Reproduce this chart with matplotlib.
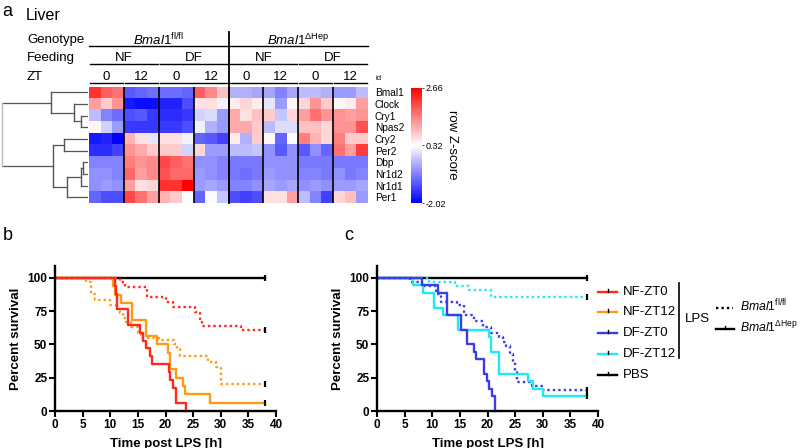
import numpy as np
import matplotlib
matplotlib.use('Agg')
import matplotlib.pyplot as plt

plt.rcParams['font.family'] = ['Liberation Sans', 'DejaVu Sans']
plt.rcParams['mathtext.fontset'] = 'custom'
plt.rcParams['mathtext.rm'] = 'Liberation Sans'
plt.rcParams['mathtext.it'] = 'Liberation Sans:italic'
plt.rcParams['mathtext.bf'] = 'Liberation Sans:bold'

# ---------------- data: heatmap ----------------
genes = ['Bmal1', 'Clock', 'Cry1', 'Npas2', 'Cry2', 'Per2', 'Dbp', 'Nr1d2', 'Nr1d1', 'Per1']
genotype_labels = [r'$\mathit{Bmal1}^{\mathrm{fl/fl}}$', r'$\mathit{Bmal1}^{\Delta\mathrm{Hep}}$']
feeding_labels = ['NF', 'DF', 'NF', 'DF']
zt_labels = ['0', '12', '0', '12', '0', '12', '0', '12']
cbar_ticks = [-2.02, 0.32, 2.66]

z_bmal1 = [2.2, 1.8, 1.6, -1.2, -1.1, -1.0, -1.0, -1.0, -1.1, 1.8, 1.4, 0.9,
           -0.4, -0.4, -0.5, -0.5, -0.8, -0.5, -0.3, -0.3, -0.4, -0.6, -0.6, -0.3]
z_clock = [1.2, 0.8, 1.3, -1.8, -1.9, -1.9, -1.7, -1.7, -1.3, 0.6, 0.6, 0.2,
           0.5, 0.7, 0.5, 0.1, -0.6, 0.4, 0.7, 1.3, 0.8, 0.4, 0.5, 1.2]
z_cry1 = [-0.3, -0.8, -1.0, -1.3, -1.2, -1.5, -1.6, -1.6, -1.5, -0.1, 0.0, -0.6,
          1.1, 0.6, 0.9, 0.8, -0.2, 0.7, 1.2, 1.6, 1.3, 1.3, 1.2, 1.3]
z_npas2 = [0.4, -0.1, -0.6, -1.5, -1.5, -1.5, -1.5, -1.5, -1.3, 0.2, -0.4, -0.6,
           1.1, 1.1, 0.8, -0.3, 0.0, 0.0, 0.9, 0.9, 0.7, 1.3, 1.3, 1.9]
z_cry2 = [-1.8, -1.7, -2.0, 1.0, 0.6, 0.1, 0.6, 0.6, 0.2, -1.1, -1.2, -1.4,
          0.5, -0.4, 0.8, 0.4, -1.1, 0.3, 1.5, 1.0, 0.7, 1.5, 0.8, 0.8]
z_per2 = [-1.6, -1.6, -1.4, 1.3, 1.1, 0.8, 0.8, 0.8, -0.1, 0.7, -0.6, -0.6,
          -0.3, -0.3, -0.2, -0.7, -1.2, -0.7, -1.2, -0.7, -1.1, 1.6, 1.2, 2.1]
z_dbp = [-0.8, -0.8, -0.8, 1.5, 1.3, 1.4, 2.0, 1.8, 1.6, -0.7, -0.7, -0.8,
         -0.9, -0.9, -0.9, -0.7, -0.7, -0.7, -0.9, -0.9, -0.9, -0.9, -0.9, -0.9]
z_nr1d2 = [-0.7, -0.7, -0.8, 1.7, 1.2, 1.4, 1.9, 1.7, 1.7, -0.6, -0.7, -0.8,
           -0.9, -1.0, -0.9, -0.6, -0.7, -0.7, -0.8, -0.8, -0.9, -0.7, -0.9, -0.8]
z_nr1d1 = [-0.7, -0.6, -0.7, 1.2, 0.6, 0.7, 2.2, 2.2, 2.66, -0.6, -0.5, -0.6,
           -0.8, -0.8, -0.7, -0.5, -0.6, -0.5, -0.7, -0.6, -0.7, -0.6, -0.6, -0.5]
z_per1 = [-1.1, -1.3, -1.3, 2.0, 1.6, 1.2, 1.0, 0.8, 0.3, -1.1, 0.3, -0.2,
          -1.3, -1.4, -1.3, 0.6, 0.6, 1.2, -0.3, -0.8, -1.4, 0.7, 0.9, -0.6]

# dendrogram merges: (child_a, child_b, height); leaves 0..9 in display order
dendro_merges = [(2, 3, 7), (1, 10, 14), (0, 11, 37), (4, 5, 24), (6, 7, 5),
                 (14, 8, 7), (15, 9, 21), (13, 16, 35), (12, 17, 86)]

# ---------------- data: survival ----------------
t_pbs = [0, 38]
s_pbs = [100, 100]

t_nf0_hep = [0, 10.8, 11.0, 11.2, 13.2, 15.3, 15.9, 16.4, 17.2, 17.6, 20.6, 20.8, 21.3, 21.9, 23.8]
s_nf0_hep = [100, 94.1, 88.2, 76.5, 64.7, 58.8, 52.9, 47.1, 41.2, 35.3, 29.4, 23.5, 17.6, 5.9, 0]
t_nf12_hep = [0, 10.5, 10.8, 12.0, 14.0, 16.4, 18.4, 20.5, 20.9, 21.9, 23.2, 23.5, 28.0, 38]
s_nf12_hep = [100, 93.75, 87.5, 81.25, 68.75, 56.25, 50, 43.75, 31.25, 25, 18.75, 12.5, 6.25, 6.25]
t_nf0_fl = [0, 11.7, 12.6, 16.6, 20.0, 21.4, 25.3, 26.2, 26.6, 33.7, 38]
s_nf0_fl = [100, 97.2, 93.0, 85.5, 82.0, 78.0, 74.5, 69.0, 64.0, 60.6, 60.6]
t_nf12_fl = [0, 5.6, 6.6, 7.2, 10.0, 11.1, 11.7, 12.3, 12.9, 13.8, 15.0, 15.6, 18.8, 21.5, 22.0,
             22.7, 27.7, 29.2, 30.1, 38]
s_nf12_fl = [100, 96.7, 88.3, 83.3, 80, 76.7, 73.3, 70, 66.7, 63.3, 58.3, 55, 53.3, 50, 46.7,
             41.7, 36.7, 33.3, 20, 20]

t_df0_hep = [0, 8.1, 11.0, 12.7, 15.2, 16.3, 17.5, 18.0, 19.3, 19.9, 20.3, 20.8, 21.3]
s_df0_hep = [100, 94.4, 88.9, 72.2, 61.1, 50, 44.4, 38.9, 27.8, 22.2, 16.7, 11.1, 0]
t_df12_hep = [0, 6.5, 8.3, 10.3, 12.0, 14.7, 20.3, 20.7, 22.1, 27.3, 28.3, 30.0, 38]
s_df12_hep = [100, 94.4, 88.9, 77.8, 72.2, 61.1, 55.6, 44.4, 27.8, 22.2, 16.7, 11.1, 11.1]
t_df0_fl = [0, 6.0, 8.2, 10.6, 11.5, 14.5, 15.8, 17.6, 19.1, 20.6, 22.1, 22.8, 23.4, 24.0, 24.6,
            24.9, 25.4, 28.0, 30.0, 38]
s_df0_fl = [100, 97, 94, 88, 82, 80, 72, 68, 63, 59, 55.5, 52, 48.5, 43, 37, 29, 22, 19, 15.5, 15.5]
t_df12_fl = [0, 9.5, 14.2, 16.7, 20.6, 38]
s_df12_fl = [100, 97.1, 94.2, 91.2, 85.7, 85.7]

legend_labels = ['NF-ZT0', 'NF-ZT12', 'DF-ZT0', 'DF-ZT12', 'PBS']
c_red, c_orange, c_blue, c_cyan, c_black = '#FF2A1A', '#FF9A14', '#3C3CEC', '#1EEAF5', '#000000'
legend_colors = [c_red, c_orange, c_blue, c_cyan, c_black]

# ---------------- figure ----------------
W, H = 800, 448
fig = plt.figure(figsize=(8, 4.48), dpi=100)


def rect(x0, y0, x1, y1):
    return [x0 / W, 1 - y1 / H, (x1 - x0) / W, (y1 - y0) / H]


# heatmap
Z = np.array([z_bmal1, z_clock, z_cry1, z_npas2, z_cry2, z_per2, z_dbp, z_nr1d2, z_nr1d1, z_per1])
hx0, hx1, hy0, hy1 = 89, 368, 86.5, 203
axh = fig.add_axes(rect(hx0, hy0, hx1, hy1))
im = axh.imshow(Z, cmap='bwr', vmin=cbar_ticks[0], vmax=cbar_ticks[2], aspect='auto',
                interpolation='nearest')
for k in range(1, 8):
    axh.axvline(3 * k - 0.5, color='k', lw=1.2 if k != 4 else 1.3)
axh.set_xticks([])
axh.yaxis.tick_right()
axh.set_yticks(range(len(genes)))
axh.set_yticklabels(genes, fontsize=7.3)
axh.tick_params(axis='y', length=0, pad=5)
for sp in axh.spines.values():
    sp.set_visible(False)

# dendrogram
axd = fig.add_axes(rect(0, hy0, 88, hy1))
pos = {i: i for i in range(len(genes))}
hgt = {i: 0 for i in range(len(genes))}
for j, (a, b, h) in enumerate(dendro_merges):
    nid = len(genes) + j
    col = '#bbbbbb' if j == len(dendro_merges) - 1 else '#555555'
    axd.plot([hgt[a], h], [pos[a], pos[a]], color='#555555', lw=0.9)
    axd.plot([hgt[b], h], [pos[b], pos[b]], color='#555555', lw=0.9)
    axd.plot([h, h], [pos[a], pos[b]], color=col, lw=1.0)
    pos[nid] = (pos[a] + pos[b]) / 2
    hgt[nid] = h
axd.set_xlim(88, 0)
axd.set_ylim(len(genes) - 0.5, -0.5)
axd.axis('off')

# colorbar
cax = fig.add_axes(rect(411, 88, 422, 203))
cb = fig.colorbar(im, cax=cax, ticks=cbar_ticks)
cb.outline.set_visible(False)
cax.set_yticklabels(['%.2f' % v for v in cbar_ticks])
cax.tick_params(labelsize=6.5, length=1.5, width=0.5, pad=1)

# survival panels
def surv_axes(x0):
    ax = fig.add_axes(rect(x0, 266, x0 + 221, 411))
    ax.set_xlim(0, 40)
    ax.set_ylim(0, 109)
    ax.set_xticks(np.arange(0, 41, 5))
    ax.set_yticks([0, 25, 50, 75, 100])
    for s in ['top', 'right']:
        ax.spines[s].set_visible(False)
    for s in ['left', 'bottom']:
        ax.spines[s].set_linewidth(1.7)
    ax.tick_params(direction='out', length=4, width=1.5, labelsize=8.5, pad=1.5)
    for lab in ax.get_xticklabels() + ax.get_yticklabels():
        lab.set_fontweight('bold')
    ax.set_xlabel('Time post LPS [h]', fontsize=9.5, fontweight='bold', labelpad=5)
    ax.set_ylabel('Percent survival', fontsize=9.5, fontweight='bold', labelpad=4)
    return ax


dot = (0, (1, 1.3))


def curve(ax, t, s, color, ls):
    ax.step(t, s, where='post', color=color, lw=1.7, linestyle=ls, clip_on=False)
    if s[-1] > 0:
        ax.plot([t[-1]], [s[-1]], marker='|', ms=4, mew=1.6, color='k', clip_on=False)


axb = surv_axes(55)
curve(axb, t_pbs, s_pbs, c_black, '-')
curve(axb, t_nf0_fl, s_nf0_fl, c_red, dot)
curve(axb, t_nf12_fl, s_nf12_fl, c_orange, dot)
curve(axb, t_nf12_hep, s_nf12_hep, c_orange, '-')
curve(axb, t_nf0_hep, s_nf0_hep, c_red, '-')

axc = surv_axes(377)
curve(axc, t_pbs, s_pbs, c_black, '-')
curve(axc, t_df12_fl, s_df12_fl, c_cyan, dot)
curve(axc, t_df0_fl, s_df0_fl, c_blue, dot)
curve(axc, t_df12_hep, s_df12_hep, c_cyan, '-')
curve(axc, t_df0_hep, s_df0_hep, c_blue, '-')

# overlay for annotations (pixel coordinates)
ov = fig.add_axes([0, 0, 1, 1])
ov.set_xlim(0, W)
ov.set_ylim(H, 0)
ov.axis('off')

ov.text(2, 12, 'a', fontsize=13, va='center', ha='left')
ov.text(26, 16, 'Liver', fontsize=11.5, va='center', ha='left')
ov.text(3, 235, 'b', fontsize=13, va='center', ha='left')
ov.text(344, 235, 'c', fontsize=13, va='center', ha='left')

ov.text(27, 40, 'Genotype', fontsize=9.5, va='center')
ov.text(27, 58, 'Feeding', fontsize=9.5, va='center')
ov.text(27, 77, 'ZT', fontsize=9.5, va='center')
ov.text(375, 78, 'id', fontsize=5.5, va='center')

gw = (hx1 - hx0) / 8.0
# genotype row
ov.plot([hx0, hx1], [46.5, 46.5], color='k', lw=1.0)
for g, lab in enumerate(genotype_labels):
    ov.text(hx0 + gw * (4 * g + 2), 40, lab, fontsize=9.5, ha='center', va='center')
ov.plot([hx0 + 4 * gw, hx0 + 4 * gw], [32, hy1], color='k', lw=1.3)
# feeding row
for f, lab in enumerate(feeding_labels):
    xa, xb = hx0 + gw * 2 * f, hx0 + gw * 2 * (f + 1)
    ov.plot([xa + 1, xb - 1], [64.5, 64.5], color='k', lw=1.0)
    ov.text((xa + xb) / 2, 58, lab, fontsize=9.5, ha='center', va='center')
# ZT row
for z, lab in enumerate(zt_labels):
    xa, xb = hx0 + gw * z, hx0 + gw * (z + 1)
    ov.plot([xa + 0.8, xb - 0.8], [83, 83], color='k', lw=1.0)
    ov.text((xa + xb) / 2, 77, lab, fontsize=9.5, ha='center', va='center')

ov.text(452, 145, 'row Z-score', fontsize=9.5, rotation=270, ha='center', va='center')

# legend
leg_y = [292, 312, 333, 354, 375]
for y, lab, c in zip(leg_y, legend_labels, legend_colors):
    ov.plot([598, 617], [y, y], color=c, lw=1.7)
    ov.plot([607.5, 607.5], [y - 3, y], color='k', lw=1.0)
    ov.text(623, y, lab, fontsize=9.5, va='center', ha='left')
ov.plot([679, 679], [283, 358], color='k', lw=1.2)
ov.text(685, 319, 'LPS', fontsize=9.5, va='center', ha='left')
ov.plot([716, 733], [308, 308], color='k', lw=1.7, linestyle=dot)
ov.plot([716, 734], [329, 329], color='k', lw=1.7)
ov.plot([725, 725], [326, 329], color='k', lw=1.0)
ov.text(740, 306, genotype_labels[0], fontsize=8.8, va='center', ha='left')
ov.text(740, 327, genotype_labels[1], fontsize=8.8, va='center', ha='left')

fig.savefig('out.png', dpi=100)
